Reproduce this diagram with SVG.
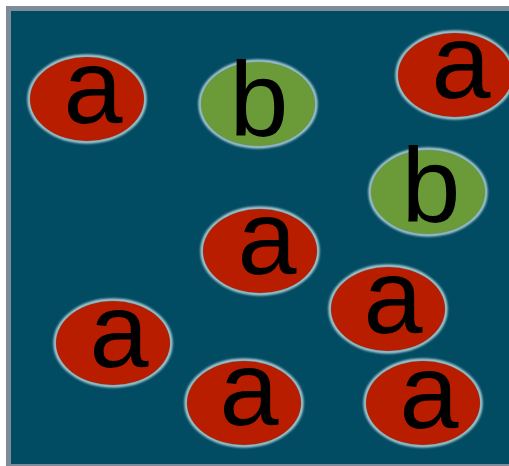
<svg xmlns="http://www.w3.org/2000/svg" width="509" height="466" viewBox="0 0 509 466">
<style>
.glow{fill:none;stroke:#b9d6dc;stroke-width:3;filter:url(#blur)}
.red{fill:#b81d00}
.green{fill:#6a9b38}
.lbl{font-family:"Liberation Sans",Arial,sans-serif;font-size:106px;fill:#000;text-anchor:middle}
</style>
<defs>
<filter id="blur" x="-20%" y="-20%" width="140%" height="140%"><feGaussianBlur stdDeviation="1"/></filter>
</defs>
<rect x="0" y="0" width="509" height="466" fill="#ffffff"/>
<rect x="8.5" y="8.5" width="510" height="458" fill="#014c63" stroke="#7d8b9b" stroke-width="5"/>
<g id="connectors"/>
<g id="n1"><ellipse class="glow" cx="87" cy="99" rx="58" ry="43"/><ellipse class="red" cx="87" cy="99" rx="57" ry="42"/><text class="lbl" x="93" y="123">a</text></g>
<g id="n2"><ellipse class="glow" cx="258" cy="104" rx="58" ry="43"/><ellipse class="green" cx="258" cy="104" rx="57" ry="42"/><text class="lbl" x="259" y="136">b</text></g>
<g id="n3"><ellipse class="glow" cx="455" cy="75" rx="58" ry="43"/><ellipse class="red" cx="455" cy="75" rx="57" ry="42"/><text class="lbl" x="461" y="98">a</text></g>
<g id="n4"><ellipse class="glow" cx="428" cy="192" rx="58" ry="43"/><ellipse class="green" cx="428" cy="192" rx="57" ry="42"/><text class="lbl" x="431" y="222">b</text></g>
<g id="n5"><ellipse class="glow" cx="260" cy="251" rx="58" ry="43"/><ellipse class="red" cx="260" cy="251" rx="57" ry="42"/><text class="lbl" x="267" y="274">a</text></g>
<g id="n6"><ellipse class="glow" cx="388" cy="309" rx="58" ry="43"/><ellipse class="red" cx="388" cy="309" rx="57" ry="42"/><text class="lbl" x="393" y="333">a</text></g>
<g id="n7"><ellipse class="glow" cx="113" cy="343" rx="58" ry="43"/><ellipse class="red" cx="113" cy="343" rx="57" ry="42"/><text class="lbl" x="119" y="367">a</text></g>
<g id="n8"><ellipse class="glow" cx="244" cy="403" rx="58" ry="43"/><ellipse class="red" cx="244" cy="403" rx="57" ry="42"/><text class="lbl" x="249" y="425">a</text></g>
<g id="n9"><ellipse class="glow" cx="423" cy="403" rx="58" ry="43"/><ellipse class="red" cx="423" cy="403" rx="57" ry="42"/><text class="lbl" x="429" y="428">a</text></g>
</svg>
